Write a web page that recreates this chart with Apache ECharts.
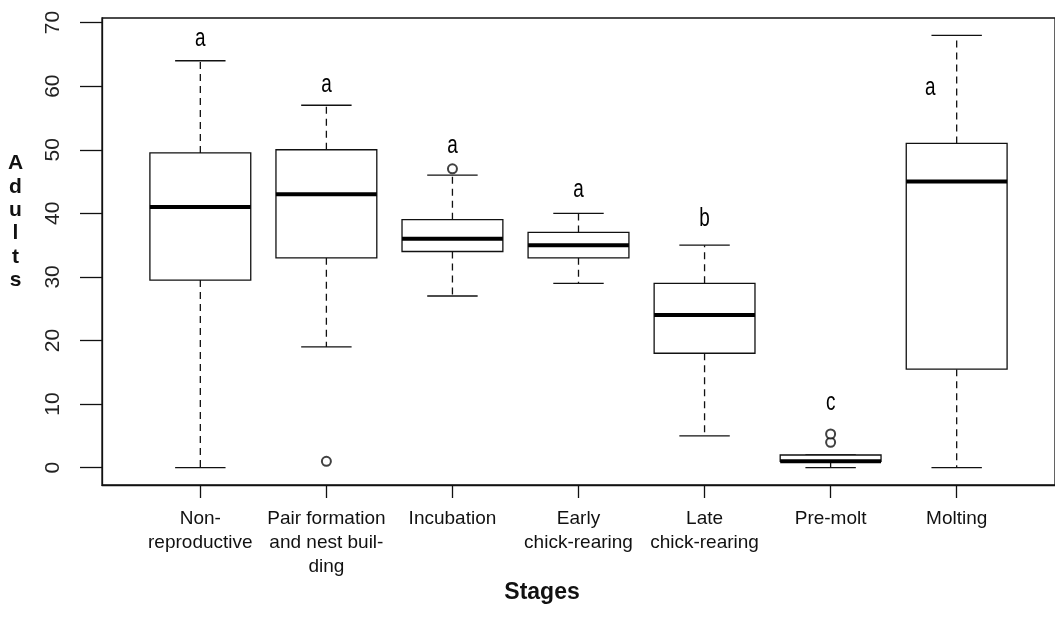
<!DOCTYPE html>
<html>
<head>
<meta charset="utf-8">
<script src="https://cdn.jsdelivr.net/npm/echarts@6/dist/echarts.min.js"></script>
<style>
  html, body { margin: 0; padding: 0; background: #fff; }
  #chart { width: 1055px; height: 634px; }
</style>
</head>
<body>
<div id="chart"></div>
<script>
(function () {
    'use strict';

    // Stages (x categories) and box statistics.
    var stages = [
        'Non-\nreproductive',
        'Pair formation\nand nest buil-\nding',
        'Incubation',
        'Early\nchick-rearing',
        'Late\nchick-rearing',
        'Pre-molt',
        'Molting'
    ];
    var whiskerLow  = [0, 19, 27, 29, 5, 0, 0];
    var quartile1   = [29.5, 33, 34, 33, 18, 1, 15.5];
    var medians     = [41, 43, 36, 35, 24, 1, 45];
    var quartile3   = [49.5, 50, 39, 37, 29, 2, 51];
    var whiskerHigh = [64, 57, 46, 40, 35, 2, 68];

    // Outliers: [stage index (1-based), value]
    var outliers = [[2, 1], [3, 47], [6, 4], [6, 5.3]];

    // Significance letters and where they sit.
    var letters = ['a', 'a', 'a', 'a', 'b', 'c', 'a'];
    var letterX = [1, 2, 3, 4, 5, 6, 6.79];
    var letterY = [67.4, 60.2, 50.7, 43.7, 39.2, 10.2, 59.7];

    var yTicks = [0, 10, 20, 30, 40, 50, 60, 70];
    var xTicks = [1, 2, 3, 4, 5, 6, 7];

    var LINE = '#111';
    var BOX_HALF = 0.4;
    var CAP_HALF = 0.2;
    var FONT = '"Liberation Sans", Arial, sans-serif';

    var boxData = stages.map(function (s, i) {
        return [i + 1, whiskerLow[i], quartile1[i], medians[i], quartile3[i], whiskerHigh[i]];
    });

    function renderBox(params, api) {
        var x = api.value(0);
        var lo = api.value(1), q1 = api.value(2), md = api.value(3),
            q3 = api.value(4), hi = api.value(5);
        var tl = api.coord([x - BOX_HALF, q3]);
        var br = api.coord([x + BOX_HALF, q1]);
        var line = function (x1, y1, x2, y2, style) {
            var a = api.coord([x1, y1]);
            var b = api.coord([x2, y2]);
            return {
                type: 'line',
                shape: { x1: a[0], y1: a[1], x2: b[0], y2: b[1] },
                style: style
            };
        };
        var dashed = { stroke: LINE, lineWidth: 1.3, lineDash: [7, 5] };
        var solid = { stroke: LINE, lineWidth: 1.3 };
        return {
            type: 'group',
            children: [
                line(x, q3, x, hi, dashed),
                line(x, q1, x, lo, dashed),
                line(x - CAP_HALF, hi, x + CAP_HALF, hi, solid),
                line(x - CAP_HALF, lo, x + CAP_HALF, lo, solid),
                {
                    type: 'rect',
                    shape: { x: tl[0], y: tl[1], width: br[0] - tl[0], height: br[1] - tl[1] },
                    style: { fill: '#fff', stroke: LINE, lineWidth: 1.3 }
                },
                line(x - BOX_HALF, md, x + BOX_HALF, md, { stroke: '#000', lineWidth: 4 })
            ]
        };
    }

    // Letters drawn a bit narrow and tall, like the condensed face of the original.
    function renderLetter(params, api) {
        var p = api.coord([api.value(0), api.value(1)]);
        return {
            type: 'text',
            x: p[0],
            y: p[1],
            scaleX: 0.9,
            scaleY: 1.25,
            style: {
                text: letters[params.dataIndex],
                font: '21px ' + FONT,
                align: 'center',
                verticalAlign: 'middle',
                fill: '#000'
            }
        };
    }

    var chart = echarts.init(document.getElementById('chart'));

    chart.setOption({
        animation: false,
        backgroundColor: '#fff',
        grid: {
            show: true,
            left: 102,
            top: 18,
            width: 957,
            height: 467,
            borderColor: LINE,
            borderWidth: 1.3,
            backgroundColor: 'transparent'
        },
        xAxis: {
            type: 'value',
            min: 0.22,
            max: 7.78,
            axisLine: { show: true, onZero: false, lineStyle: { color: LINE, width: 1.3 } },
            axisTick: { show: true, length: 13, customValues: xTicks, lineStyle: { color: LINE, width: 1.3 } },
            splitLine: { show: false },
            axisLabel: {
                customValues: xTicks,
                margin: 22,
                fontFamily: FONT,
                fontSize: 19,
                lineHeight: 24,
                color: '#111',
                align: 'center',
                formatter: function (v) { return stages[Math.round(v) - 1] || ''; }
            }
        },
        yAxis: {
            type: 'value',
            min: -2.72,
            max: 70.72,
            axisLine: { show: true, onZero: false, lineStyle: { color: LINE, width: 1.3 } },
            axisTick: { show: true, length: 22, customValues: yTicks, lineStyle: { color: LINE, width: 1.3 } },
            splitLine: { show: false },
            axisLabel: {
                customValues: yTicks,
                rotate: 90,
                margin: 38,
                fontFamily: FONT,
                fontSize: 21,
                color: '#222'
            }
        },
        graphic: [
            {
                type: 'text',
                x: 15.5,
                y: 152,
                style: {
                    text: 'A\nd\nu\nl\nt\ns',
                    font: 'bold 21px ' + FONT,
                    lineHeight: 23.3,
                    align: 'center',
                    fill: '#111'
                }
            },
            {
                type: 'text',
                x: 542,
                y: 593,
                style: {
                    text: 'Stages',
                    font: 'bold 23px ' + FONT,
                    align: 'center',
                    verticalAlign: 'middle',
                    fill: '#111'
                }
            }
        ],
        series: [
            {
                type: 'custom',
                renderItem: renderBox,
                data: boxData,
                encode: { x: 0, y: [1, 2, 3, 4, 5] },
                z: 2
            },
            {
                type: 'scatter',
                data: outliers,
                symbol: 'emptyCircle',
                symbolSize: 9,
                itemStyle: { color: LINE, borderColor: LINE, borderWidth: 1.3 },
                z: 3
            },
            {
                type: 'custom',
                renderItem: renderLetter,
                data: letterX.map(function (x, i) { return [x, letterY[i]]; }),
                encode: { x: 0, y: 1 },
                z: 4
            }
        ]
    });
})();
</script>
</body>
</html>
